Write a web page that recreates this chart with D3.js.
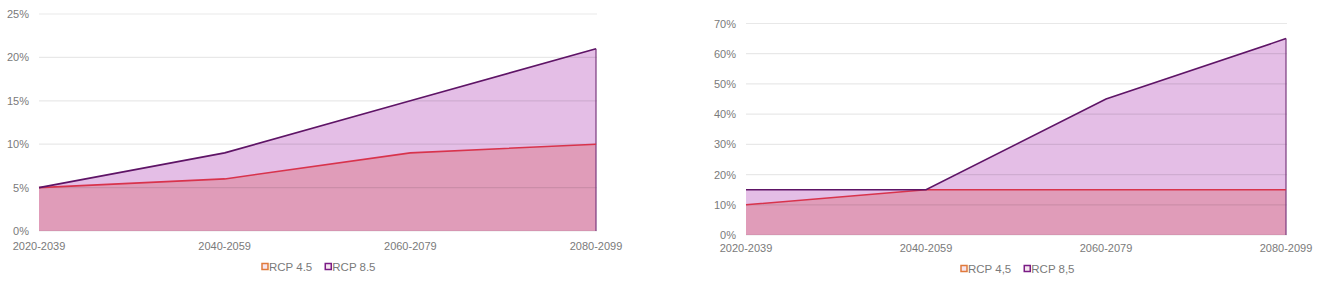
<!DOCTYPE html>
<html>
<head>
<meta charset="utf-8">
<script src="https://cdn.jsdelivr.net/npm/d3@7"></script>
<style>
  body { margin: 0; background: #fff; }
  text { font-family: "Liberation Sans", Arial, sans-serif; fill: #7a7a7a; }
</style>
</head>
<body>
<svg id="chart" width="1325" height="289"></svg>
<script>
const periods = ["2020-2039", "2040-2059", "2060-2079", "2080-2099"];

// left panel
const leftRcp45 = [5, 6, 9, 10];
const leftRcp85 = [5, 9, 15, 21];
const leftTicks = [0, 5, 10, 15, 20, 25];
const leftLegend = ["RCP 4.5", "RCP 8.5"];

// right panel
const rightRcp45 = [10, 15, 15, 15];
const rightRcp85 = [15, 15, 45, 65];
const rightTicks = [0, 10, 20, 30, 40, 50, 60, 70];
const rightLegend = ["RCP 4,5", "RCP 8,5"];

const svg = d3.select("#chart");

function drawPanel({x0, x1, yTop, yBottom, ticks, rcp45, rcp85, legend, legendX, tickY, legendY}) {
  const g = svg.append("g");

  const x = d3.scalePoint().domain(periods).range([x0, x1]);
  const y = d3.scaleLinear().domain([0, d3.max(ticks)]).range([yBottom, yTop]);

  const area = (vals) => d3.area()
    .x((d, i) => x(periods[i]))
    .y0(y(0))
    .y1(d => y(d))(vals);
  const line = (vals) => d3.line()
    .x((d, i) => x(periods[i]))
    .y(d => y(d))(vals);

  // fills
  g.append("path").attr("d", area(rcp85)).attr("fill", "#e4bee6");
  g.append("path").attr("d", area(rcp45)).attr("fill", "#e09cb9");

  // grid on top, translucent so it shows through the fills
  g.selectAll(".grid").data(ticks).join("line")
    .attr("x1", x0).attr("x2", x1 + 1)
    .attr("y1", d => y(d)).attr("y2", d => y(d))
    .attr("stroke", "rgba(0,0,0,0.09)")
    .attr("stroke-width", 1.2);

  // right edge of the areas
  g.append("line")
    .attr("x1", x1).attr("x2", x1)
    .attr("y1", y(d3.max([rcp85[3], rcp45[3]]))).attr("y2", y(0))
    .attr("stroke", "#7a3a7e").attr("stroke-width", 1.2);

  // lines
  g.append("path").attr("d", line(rcp45))
    .attr("fill", "none").attr("stroke", "#d8334c").attr("stroke-width", 1.6);
  g.append("path").attr("d", line(rcp85))
    .attr("fill", "none").attr("stroke", "#5e1466").attr("stroke-width", 1.6);

  // y labels
  g.selectAll(".ylab").data(ticks).join("text")
    .attr("x", x0 - 10).attr("y", d => y(d))
    .attr("text-anchor", "end").attr("dominant-baseline", "central")
    .style("font-size", "11px")
    .text(d => d + "%");

  // x labels
  g.selectAll(".xlab").data(periods).join("text")
    .attr("x", d => x(d)).attr("y", tickY)
    .attr("text-anchor", "middle").attr("dominant-baseline", "central")
    .style("font-size", "11px")
    .text(d => d);

  // legend
  const colors = ["#e07a3c", "#7a1c86"];
  let lx = legendX;
  legend.forEach((name, i) => {
    g.append("rect")
      .attr("x", lx).attr("y", legendY - 3.5)
      .attr("width", 6).attr("height", 6)
      .attr("fill", "#f6e6ef").attr("stroke", colors[i]).attr("stroke-width", 1.5);
    const t = g.append("text")
      .attr("x", lx + 7).attr("y", legendY)
      .attr("dominant-baseline", "central")
      .style("font-size", "11.5px")
      .text(name);
    lx += 7 + t.node().getComputedTextLength() + 13;
  });
}

drawPanel({
  x0: 39, x1: 596, yTop: 14, yBottom: 231,
  ticks: leftTicks, rcp45: leftRcp45, rcp85: leftRcp85,
  legend: leftLegend, legendX: 262, tickY: 246, legendY: 267
});

drawPanel({
  x0: 746, x1: 1286, yTop: 23.5, yBottom: 235,
  ticks: rightTicks, rcp45: rightRcp45, rcp85: rightRcp85,
  legend: rightLegend, legendX: 961, tickY: 248, legendY: 269
});
</script>
</body>
</html>
